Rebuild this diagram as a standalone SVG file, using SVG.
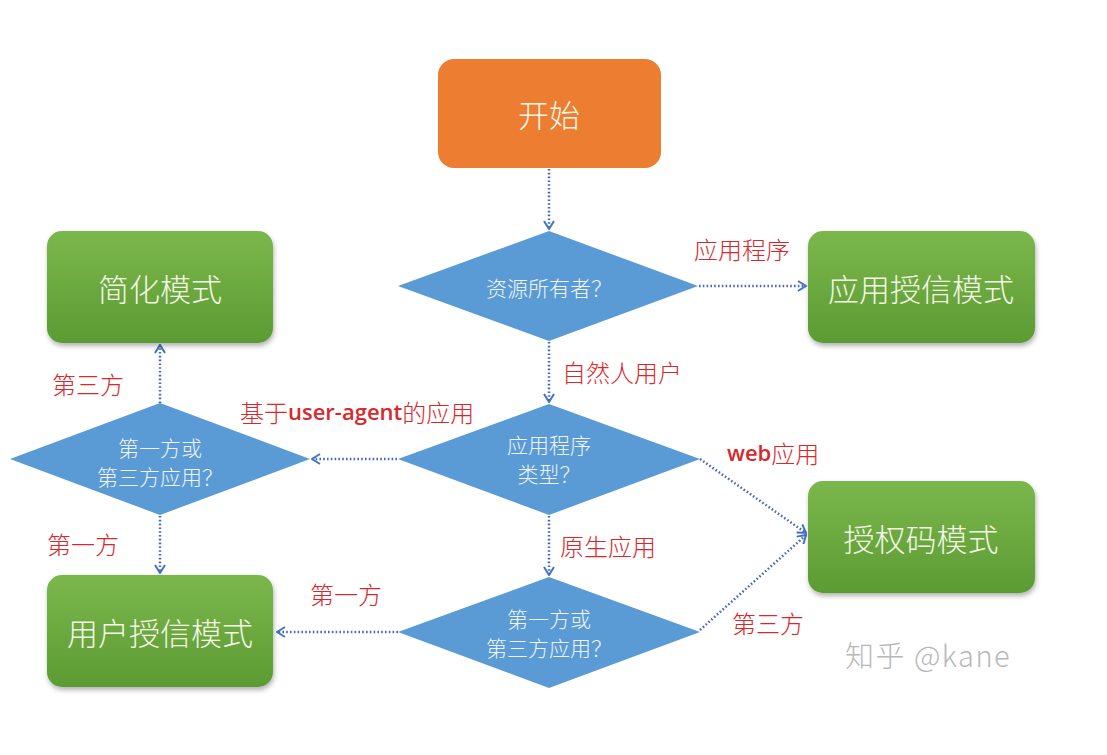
<svg xmlns="http://www.w3.org/2000/svg" width="1107" height="755" viewBox="0 0 1107 755">
<defs>
<linearGradient id="g" x1="0" y1="0" x2="0" y2="1">
<stop offset="0" stop-color="#7bb74c"/>
<stop offset="1" stop-color="#5c9b33"/>
</linearGradient>
<filter id="sh" x="-10%" y="-10%" width="125%" height="130%">
<feDropShadow dx="1" dy="3" stdDeviation="2.5" flood-color="#000" flood-opacity="0.3"/>
</filter>
<marker id="ar" viewBox="0 0 10 12" refX="9" refY="6" markerWidth="10" markerHeight="12" markerUnits="userSpaceOnUse" orient="auto">
<path d="M1,1 L9,6 L1,11" fill="none" stroke="#4472c4" stroke-width="2"/>
</marker>
<style>
.box{fill:url(#g);filter:url(#sh)}
.start{fill:#ed7d31}
.dia{fill:#5b9bd5}
.bt{font-family:"Noto Sans CJK SC",sans-serif;font-size:31px;fill:#f4f6e6;text-anchor:middle;dominant-baseline:central;font-weight:300}
.dt{font-family:"Noto Sans CJK SC",sans-serif;font-size:21px;fill:#f0f4fa;text-anchor:middle;dominant-baseline:central;font-weight:300}
.lb{font-family:"Noto Sans CJK SC",sans-serif;font-size:24px;fill:#d9272b;dominant-baseline:central;font-weight:300}
.lat{font-family:"Open Sans","Noto Sans",sans-serif;font-weight:600;font-size:22px}
.cn path,.cn line{fill:none;stroke:#4a67b3;stroke-width:2.5;stroke-dasharray:1.6 2.2;marker-end:url(#ar)}
.wm{font-family:"Noto Sans CJK SC",sans-serif;font-size:29px;fill:#b8b8b8;dominant-baseline:central;letter-spacing:1.5px;font-weight:300}
</style>
</defs>
<rect width="1107" height="755" fill="#fff"/>

<g id="connectors" class="cn">
<line x1="549" y1="169" x2="549" y2="229"/>
<line x1="699" y1="286" x2="806" y2="286"/>
<line x1="549" y1="342" x2="549" y2="402"/>
<line x1="397" y1="459" x2="312" y2="459"/>
<line x1="160" y1="403" x2="160" y2="345"/>
<line x1="160" y1="516" x2="160" y2="573"/>
<line x1="700" y1="459" x2="806" y2="533"/>
<line x1="549" y1="516" x2="549" y2="575"/>
<line x1="398" y1="632" x2="277" y2="632"/>
<line x1="700" y1="630" x2="806" y2="535"/>
</g>

<g id="start">
<rect class="start" x="438" y="59" width="223" height="109" rx="16"/>
<text class="bt" x="549" y="113">开始</text>
</g>

<g id="d-owner">
<polygon class="dia" points="549,231 698,286 549,341 398,286"/>
<text class="dt" x="549" y="287">资源所有者？</text>
</g>

<g id="n-app-cred">
<rect class="box" x="808" y="231" width="227" height="112" rx="15"/>
<text class="bt" x="921" y="287">应用授信模式</text>
</g>

<g id="n-implicit">
<rect class="box" x="47" y="231" width="226" height="112" rx="15"/>
<text class="bt" x="160" y="287">简化模式</text>
</g>

<g id="d-apptype">
<polygon class="dia" points="549,404 700,459 549,515 398,459"/>
<text class="dt" x="549" y="444">应用程序</text>
<text class="dt" x="549" y="473">类型？</text>
</g>

<g id="d-party-left">
<polygon class="dia" points="160,403 310,459 160,515 10,459"/>
<text class="dt" x="160" y="447">第一方或</text>
<text class="dt" x="160" y="476">第三方应用？</text>
</g>

<g id="n-authcode">
<rect class="box" x="808" y="481" width="227" height="112" rx="15"/>
<text class="bt" x="921" y="537">授权码模式</text>
</g>

<g id="d-party-bottom">
<polygon class="dia" points="549,577 700,632 549,688 398,632"/>
<text class="dt" x="549" y="618">第一方或</text>
<text class="dt" x="549" y="647">第三方应用？</text>
</g>

<g id="n-password">
<rect class="box" x="47" y="575" width="226" height="112" rx="15"/>
<text class="bt" x="160" y="631">用户授信模式</text>
</g>

<g id="labels">
<text class="lb" x="694" y="248">应用程序</text>
<text class="lb" x="562" y="371">自然人用户</text>
<text class="lb" x="240" y="411">基于<tspan class="lat">user-agent</tspan>的应用</text>
<text class="lb" x="52" y="383">第三方</text>
<text class="lb" x="47" y="543">第一方</text>
<text class="lb" x="727" y="452"><tspan class="lat">web</tspan>应用</text>
<text class="lb" x="560" y="545">原生应用</text>
<text class="lb" x="310" y="593">第一方</text>
<text class="lb" x="732" y="622">第三方</text>
</g>

<text class="wm" x="845" y="654">知乎 @kane</text>
</svg>
